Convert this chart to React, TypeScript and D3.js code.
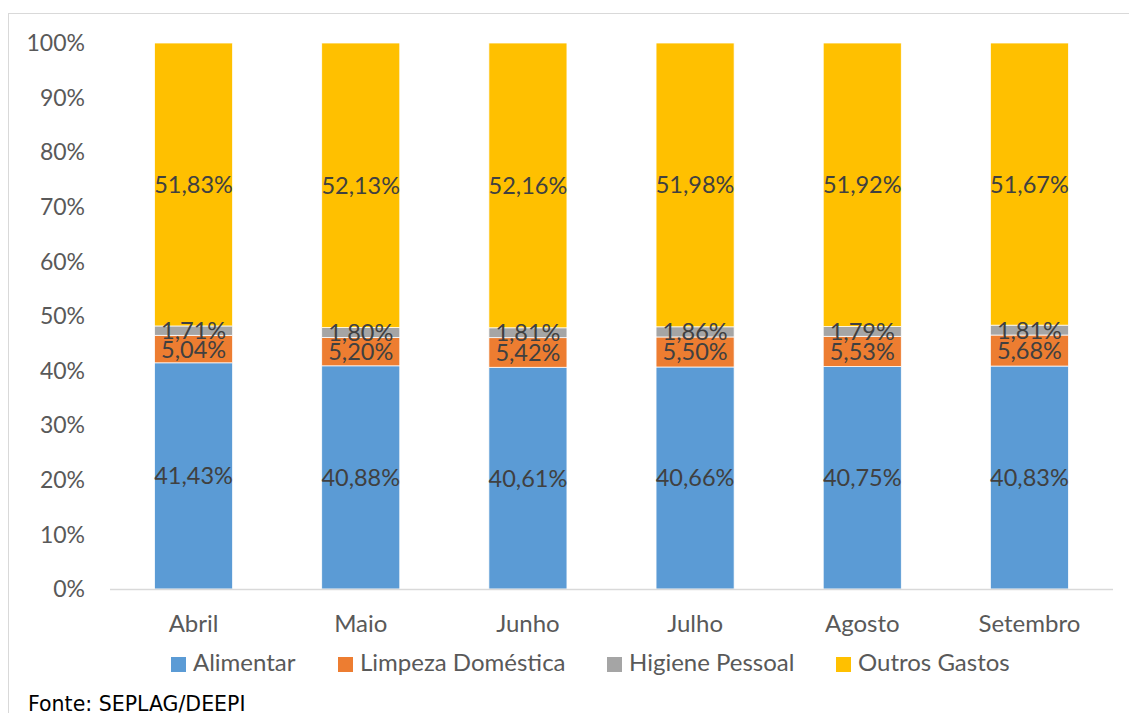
import { useEffect, useRef } from 'react';
import * as d3 from 'd3';

const months = ['Abril', 'Maio', 'Junho', 'Julho', 'Agosto', 'Setembro'];
const seriesNames = ['Alimentar', 'Limpeza Doméstica', 'Higiene Pessoal', 'Outros Gastos'];
const seriesColors = ['#5B9BD5', '#ED7D31', '#A5A5A5', '#FFC000'];
const alimentar = [41.43, 40.88, 40.61, 40.66, 40.75, 40.83];
const limpeza = [5.04, 5.2, 5.42, 5.5, 5.53, 5.68];
const higiene = [1.71, 1.8, 1.81, 1.86, 1.79, 1.81];
const outros = [51.83, 52.13, 52.16, 51.98, 51.92, 51.67];
const yTicks = [0, 10, 20, 30, 40, 50, 60, 70, 80, 90, 100];

const W = 1129;
const H = 713;
const FONT = 'Lato, "Open Sans", sans-serif';

export default function App() {
  const svgRef = useRef<SVGSVGElement>(null);

  useEffect(() => {
    document.body.style.margin = '0';
    if (!svgRef.current) return;
    const svg = d3.select(svgRef.current);
    svg.selectAll('*').remove();

    const margin = { top: 43, right: 16, bottom: 124, left: 110 };
    const plotW = W - margin.left - margin.right;
    const plotH = H - margin.top - margin.bottom;

    // chart frame (only top & left edges visible in the crop)
    svg.append('rect')
      .attr('x', 8.5).attr('y', 13.5)
      .attr('width', W + 20).attr('height', H + 20)
      .attr('fill', 'none').attr('stroke', '#d9d9d9').attr('stroke-width', 1);

    const g = svg.append('g').attr('transform', `translate(${margin.left},${margin.top})`);

    const x = d3.scaleBand<string>().domain(months).range([0, plotW]).paddingInner(0.533).paddingOuter(0.2665);
    const y = d3.scaleLinear().domain([0, 100]).range([plotH, 0]);

    const rows = months.map((m, i) => {
      const vals = [alimentar[i], limpeza[i], higiene[i], outros[i]];
      const total = d3.sum(vals);
      return { month: m, vals, total };
    });

    // y tick labels
    g.selectAll('.ytick')
      .data(yTicks)
      .join('text')
      .attr('x', -25)
      .attr('y', (d) => y(d))
      .attr('dy', '0.36em')
      .attr('text-anchor', 'end')
      .attr('fill', '#595959')
      .attr('font-family', FONT)
      .attr('font-size', 23)
      .text((d) => `${d}%`);

    // stacked segments
    rows.forEach((r) => {
      let acc = 0;
      r.vals.forEach((v, si) => {
        const y0 = (acc / r.total) * 100;
        acc += v;
        const y1 = (acc / r.total) * 100;
        g.append('rect')
          .attr('x', x(r.month)!)
          .attr('width', x.bandwidth())
          .attr('y', y(y1))
          .attr('height', y(y0) - y(y1))
          .attr('fill', seriesColors[si])
          .attr('stroke', '#ffffff')
          .attr('stroke-width', 0.75);
      });
    });

    // data labels (drawn after all bars)
    rows.forEach((r) => {
      let acc = 0;
      r.vals.forEach((v) => {
        const y0 = (acc / r.total) * 100;
        acc += v;
        const y1 = (acc / r.total) * 100;
        g.append('text')
          .attr('x', x(r.month)! + x.bandwidth() / 2)
          .attr('y', y((y0 + y1) / 2))
          .attr('dy', '0.36em')
          .attr('text-anchor', 'middle')
          .attr('fill', '#404040')
          .attr('font-family', FONT)
          .attr('font-size', 23.5)
          .text(v.toFixed(2).replace('.', ',') + '%');
      });
    });

    // x axis line
    g.append('line')
      .attr('x1', 0).attr('x2', plotW)
      .attr('y1', plotH + 0.5).attr('y2', plotH + 0.5)
      .attr('stroke', '#d9d9d9').attr('stroke-width', 1.5);

    // x labels
    g.selectAll('.xlab')
      .data(months)
      .join('text')
      .attr('x', (d) => x(d)! + x.bandwidth() / 2)
      .attr('y', plotH + 43)
      .attr('text-anchor', 'middle')
      .attr('fill', '#595959')
      .attr('font-family', FONT)
      .attr('font-size', 24)
      .text((d) => d);

    // legend
    const legendX = [171, 338, 607, 836];
    const legend = svg.append('g');
    seriesNames.forEach((name, i) => {
      legend.append('rect')
        .attr('x', legendX[i]).attr('y', 657)
        .attr('width', 15).attr('height', 15)
        .attr('fill', seriesColors[i]);
      legend.append('text')
        .attr('x', legendX[i] + 22).attr('y', 671)
        .attr('fill', '#595959')
        .attr('font-family', FONT)
        .attr('font-size', 24)
        .text(name);
    });

    svg.append('text')
      .attr('x', 28).attr('y', 711)
      .attr('fill', '#000000')
      .attr('font-family', '"DejaVu Sans", sans-serif')
      .attr('font-size', 20.5)
      .text('Fonte: SEPLAG/DEEPI');
  }, []);

  return <svg ref={svgRef} width={W} height={H} style={{ display: 'block', background: '#fff' }} />;
}
